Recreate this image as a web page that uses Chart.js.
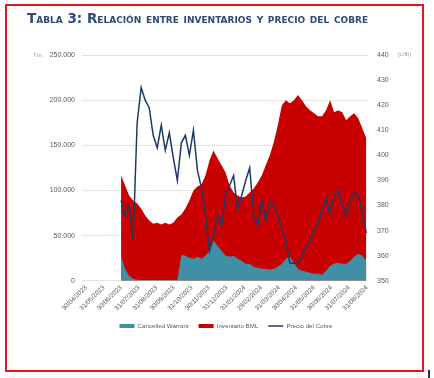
<!DOCTYPE html>
<html><head><meta charset="utf-8">
<script src="https://cdn.jsdelivr.net/npm/chart.js@4.4.1/dist/chart.umd.min.js"></script>
<style>
html,body{margin:0;padding:0;background:#fff;}
#wrap{position:relative;width:434px;height:378px;overflow:hidden;background:#fff;}
#frame{position:absolute;left:5px;top:4px;width:419px;height:368px;border:2.5px solid #e3161c;box-sizing:border-box;}
#title{position:absolute;left:27px;top:10px;font-family:"DejaVu Sans",sans-serif;font-weight:bold;font-size:13.5px;font-variant:small-caps;color:#2c4a7a;white-space:nowrap;}
.unit{position:absolute;font-family:"Liberation Sans",sans-serif;font-size:6px;color:#9a9a9a;white-space:nowrap;}
#mark{position:absolute;left:428px;top:370px;width:2px;height:8px;background:#333;}
canvas{position:absolute;left:0;top:0;}
</style></head>
<body>
<div id="wrap">
<canvas id="c" width="434" height="378"></canvas>
<div id="frame"></div>
<div id="title">Tabla 3: Relación entre inventarios y precio del cobre</div>
<div class="unit" style="left:33px;top:52px;">Tm</div>
<div class="unit" style="left:398px;top:51px;">(c/lb)</div>
<div id="mark"></div>
</div>
<script>
// Weekly observation dates
const dates = ["2023-06-30","2023-07-07","2023-07-14","2023-07-21","2023-07-28","2023-08-04","2023-08-11","2023-08-18","2023-08-25","2023-09-01","2023-09-08","2023-09-15","2023-09-22","2023-09-29","2023-10-06","2023-10-13","2023-10-20","2023-10-27","2023-11-03","2023-11-10","2023-11-17","2023-11-24","2023-12-01","2023-12-08","2023-12-15","2023-12-22","2023-12-29","2024-01-05","2024-01-12","2024-01-19","2024-01-26","2024-02-02","2024-02-09","2024-02-16","2024-02-23","2024-03-01","2024-03-08","2024-03-15","2024-03-22","2024-03-29","2024-04-05","2024-04-12","2024-04-19","2024-04-26","2024-05-03","2024-05-10","2024-05-17","2024-05-24","2024-05-31","2024-06-07","2024-06-14","2024-06-21","2024-06-28","2024-07-05","2024-07-12","2024-07-19","2024-07-26","2024-08-02","2024-08-09","2024-08-16","2024-08-23","2024-08-30"];

// Cancelled Warrant (Tm)
const cancelledWarrant = [27800,13300,5600,2200,1100,1000,1000,1000,1000,1000,1000,1000,1000,1000,1000,28900,27800,25600,24400,26700,24400,27800,33300,44400,38900,33300,27800,26700,27800,24400,22200,18900,18900,15600,14400,13300,13300,12200,13300,15600,18900,24400,26700,20000,13300,11100,10000,8900,7800,7800,6700,11100,16700,18900,20000,18900,18900,22200,26700,30000,27800,22200];

// Inventario BML (Tm)
const inventarioBML = [116700,105600,94400,88900,85600,80000,72200,66700,63300,64400,62200,64400,62200,64400,70000,73300,80000,88900,100000,104400,106700,116700,133300,144400,135600,127800,120000,105600,97800,94400,92200,93300,97800,102200,108900,116700,127800,138900,153300,172200,194400,200000,196700,200000,205600,200000,193300,188900,185600,182200,182200,188900,200000,186700,188900,186700,177800,182200,185600,180000,168900,157800];

// Precio del Cobre (c/lb)
const precioCobre = [382,376,380,366,413,427,422,419,408,403,412,402,409,399,390,405,408,400,410,394,387,376,362,368,376,372,384,388,392,378,384,390,395,376,372,382,374,382,380,376,371,366,357,357,357,360,363,366,370,373,378,383,377,384,386,380,376,382,385,384,377,369];

// X axis tick labels
const tickLabels = ["30/04/2023","31/05/2023","30/06/2023","31/07/2023","31/08/2023","30/09/2023","31/10/2023","30/11/2023","31/12/2023","31/01/2024","29/02/2024","31/03/2024","30/04/2024","31/05/2024","30/06/2024","31/07/2024","31/08/2024"];

const seriesNames = ["Cancelled Warrant","Inventario BML","Precio del Cobre"];

const BASE = Date.UTC(2023,3,30);
const DAY = 86400000;
const isoToDay = s => { const [y,m,d] = s.split('-').map(Number); return (Date.UTC(y,m-1,d)-BASE)/DAY; };
const dmyToDay = s => { const [d,m,y] = s.split('/').map(Number); return (Date.UTC(y,m-1,d)-BASE)/DAY; };
const xs = dates.map(isoToDay);
const tickDays = tickLabels.map(dmyToDay);
const pts = arr => arr.map((v,i)=>({x:xs[i], y:v}));
const fmt = v => String(v).replace(/\B(?=(\d{3})+(?!\d))/g,'.');

new Chart(document.getElementById('c'), {
  type: 'line',
  data: {
    datasets: [
      { label: seriesNames[0], data: pts(cancelledWarrant), yAxisID: 'y', fill: 'origin',
        backgroundColor: '#3f8fa6', borderColor: '#3f8fa6', borderWidth: 0, pointRadius: 0,
        pointStyle: 'rect', order: 1, tension: 0 },
      { label: seriesNames[1], data: pts(inventarioBML), yAxisID: 'y', fill: 'origin',
        backgroundColor: '#c80000', borderColor: '#c80000', borderWidth: 0, pointRadius: 0,
        pointStyle: 'rect', order: 2, tension: 0 },
      { label: seriesNames[2], data: pts(precioCobre), yAxisID: 'y2', fill: false,
        backgroundColor: '#1f3864', borderColor: '#1f3864', borderWidth: 1.5, pointRadius: 0,
        pointStyle: 'line', order: 0, tension: 0 }
    ]
  },
  options: {
    responsive: false, devicePixelRatio: 1, animation: false,
    layout: { padding: { top: 55, left: 18, right: 0, bottom: 39 } },
    plugins: {
      tooltip: { enabled: false },
      legend: {
        position: 'bottom',
        labels: { usePointStyle: true, pointStyleWidth: 15, boxHeight: 4, padding: 10,
          color: '#595959', font: { family: 'Liberation Sans', size: 6.2 },
          sort: (a, b) => a.datasetIndex - b.datasetIndex }
      }
    },
    scales: {
      x: {
        type: 'linear', min: -7, max: 491,
        grid: { display: false, drawTicks: false },
        border: { display: false },
        afterBuildTicks: s => { s.ticks = tickDays.map(v => ({ value: v })); },
        afterFit: s => { s.height = 32; },
        ticks: { autoSkip: false, minRotation: 45, maxRotation: 45, padding: 3,
          color: '#595959', font: { family: 'Liberation Sans', size: 6.5 },
          callback: v => { const k = tickDays.indexOf(v); return k >= 0 ? tickLabels[k] : ''; } }
      },
      y: {
        position: 'left', min: 0, max: 250000,
        grid: { color: '#e3e3e3', drawTicks: false },
        border: { display: false },
        afterFit: s => { s.width = 64; },
        ticks: { stepSize: 50000, padding: 7, color: '#595959',
          font: { family: 'Liberation Sans', size: 7 }, callback: v => fmt(v) }
      },
      y2: {
        position: 'right', min: 350, max: 440,
        grid: { display: false, drawTicks: false },
        border: { display: false },
        afterFit: s => { s.width = 66; },
        ticks: { stepSize: 10, padding: 9, color: '#595959',
          font: { family: 'Liberation Sans', size: 7 } }
      }
    }
  }
});
</script>
</body></html>
